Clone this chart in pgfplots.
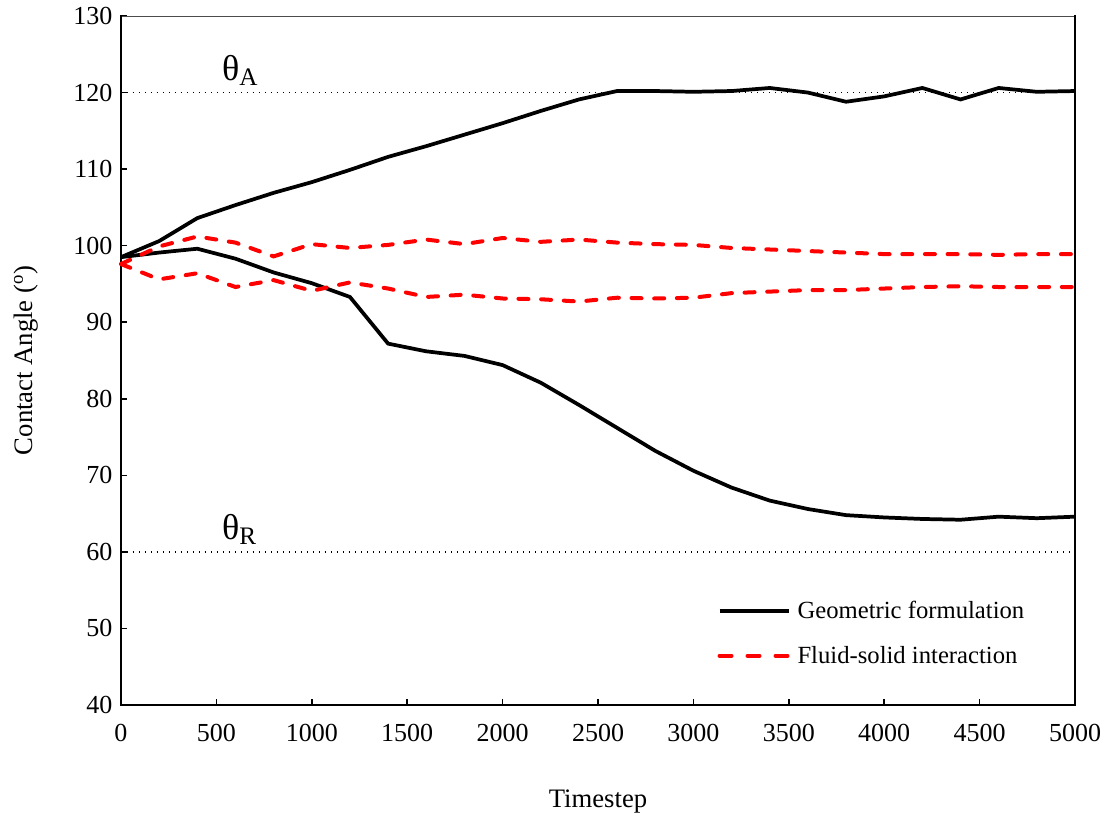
\documentclass[border=0pt]{standalone}
\usepackage{fontspec}
\setmainfont{Liberation Serif}
\usepackage{pgfplots}
\pgfplotsset{compat=1.18}

\begin{document}
\begin{tikzpicture}[x=1pt,y=1pt]
\begin{axis}[
  at={(0pt,0pt)}, anchor=south west,
  scale only axis,
  width=715.5pt, height=516.75pt,
  xmin=0, xmax=5000, ymin=40, ymax=130,
  xtick={0,500,...,5000}, ytick={40,50,...,130},
  tick align=inside,
  major tick length=4.5pt,
  tick style={black, line width=1.1pt},
  axis x line*=bottom, axis y line*=left,
  axis line style={draw=none},
  tick label style={font=\fontsize{19.5}{22}\selectfont},
  /pgf/number format/assume math mode=true,
  /pgf/number format/1000 sep={},
  xticklabel shift=11pt,
  yticklabel shift=3pt,
  xlabel={Timestep},
  ylabel={Contact Angle (\textsuperscript{o})},
  label style={font=\fontsize{20}{24}\selectfont},
  xlabel style={at={(axis description cs:0.5,0)}, anchor=base, yshift=-77pt},
  ylabel style={at={(axis description cs:0,0.5)}, anchor=base, yshift=66pt},
  clip=false,
  legend style={at={(axis cs:3125,53.9)}, anchor=north west, draw=none, fill=none,
    inner sep=0pt, font=\fontsize{18.5}{22}\selectfont, row sep=15pt,
    /tikz/every odd column/.append style={column sep=3pt}},
  legend cell align=left,
  legend image code/.code={\draw[#1] (0pt,0pt) -- (52pt,0pt);},
]
% frame: heavy left, bottom and right sides, light top
\draw[line width=0.7pt, black!70] (axis cs:0,130) -- (axis cs:5000,130);
\draw[line width=2pt, line cap=rect] (axis cs:0,130) -- (axis cs:0,40) -- (axis cs:5000,40) -- (axis cs:5000,130);

% advancing / receding reference angles
\addplot[black, line width=1.1pt, dash pattern=on 1pt off 3.5pt, forget plot]
  coordinates {(0,120) (5000,120)};
\addplot[black, line width=1.1pt, dash pattern=on 1pt off 3.5pt, forget plot]
  coordinates {(0,60) (5000,60)};
\node[anchor=base west, inner sep=0pt, font=\fontsize{27}{30}\selectfont]
  at (axis cs:529,121.6) {θ\textsubscript{A}};
\node[anchor=base west, inner sep=0pt, font=\fontsize{27}{30}\selectfont]
  at (axis cs:529,61.6) {θ\textsubscript{R}};

% geometric formulation
\addplot[black, line width=2.8pt] coordinates {
  (0,98.5) (200,100.6) (400,103.6) (600,105.3) (800,106.9) (1000,108.3)
  (1200,109.9) (1400,111.6) (1600,113.0) (1800,114.5) (2000,116.0)
  (2200,117.6) (2400,119.1) (2600,120.2) (2800,120.2) (3000,120.1)
  (3200,120.2) (3400,120.6) (3600,120.0) (3800,118.8) (4000,119.5)
  (4200,120.6) (4400,119.1) (4600,120.6) (4800,120.1) (5000,120.2)};
\addlegendentry{Geometric formulation}
\addplot[black, line width=2.8pt, forget plot] coordinates {
  (0,98.5) (200,99.1) (400,99.6) (600,98.3) (800,96.5) (1000,95.1)
  (1200,93.3) (1400,87.2) (1600,86.2) (1800,85.6) (2000,84.4)
  (2200,82.1) (2400,79.2) (2600,76.2) (2800,73.2) (3000,70.6)
  (3200,68.4) (3400,66.7) (3600,65.6) (3800,64.8) (4000,64.5)
  (4200,64.3) (4400,64.2) (4600,64.6) (4800,64.4) (5000,64.6)};

% fluid-solid interaction
\addplot[red, line width=3pt, line cap=round, dash pattern=on 7.5pt off 9.5pt,
  legend image post style={dash pattern=on 9pt off 12pt}] coordinates {
  (0,97.6) (200,99.9) (400,101.2) (600,100.4) (800,98.6) (1000,100.2)
  (1200,99.7) (1400,100.1) (1600,100.8) (1800,100.2) (2000,101.0)
  (2200,100.5) (2400,100.8) (2600,100.4) (2800,100.2) (3000,100.1)
  (3200,99.7) (3400,99.5) (3600,99.3) (3800,99.1) (4000,98.9)
  (4200,98.9) (4400,98.9) (4600,98.8) (4800,98.9) (5000,98.9)};
\addlegendentry{Fluid-solid interaction}
\addplot[red, line width=3pt, line cap=round, dash pattern=on 7.5pt off 9.5pt, forget plot] coordinates {
  (0,97.6) (200,95.6) (400,96.4) (600,94.6) (800,95.5) (1000,94.1)
  (1200,95.2) (1400,94.4) (1600,93.3) (1800,93.6) (2000,93.1)
  (2200,93.0) (2400,92.7) (2600,93.2) (2800,93.1) (3000,93.2)
  (3200,93.8) (3400,94.0) (3600,94.2) (3800,94.2) (4000,94.4)
  (4200,94.6) (4400,94.7) (4600,94.6) (4800,94.6) (5000,94.6)};
\end{axis}
\pgfresetboundingbox
\path (-90.75pt,-84.75pt) rectangle (740.25pt,528.75pt);
\end{tikzpicture}
\end{document}
